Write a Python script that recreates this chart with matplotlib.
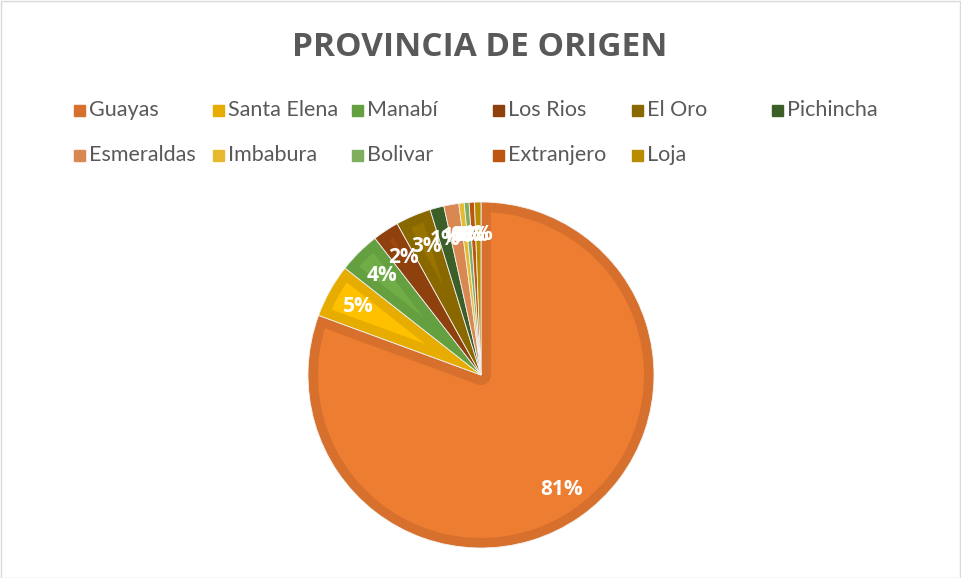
import numpy as np
import matplotlib.pyplot as plt
from matplotlib.patches import Rectangle, Polygon

# Data (share of each slice, %)
provincias = ["Guayas", "Santa Elena", "Manabí", "Los Rios", "El Oro", "Pichincha",
              "Esmeraldas", "Imbabura", "Bolivar", "Extranjero", "Loja"]
porcentaje = [80.6, 5.0, 3.9, 2.45, 3.3, 1.3, 1.4, 0.5, 0.45, 0.5, 0.6]
colores = ["#ED7D31", "#FFC000", "#70AD47", "#9E480E", "#997300", "#43682B",
           "#F1975A", "#FFCD33", "#8CC168", "#D26012", "#CC9A00"]
bordes = ["#D6702C", "#E6AD00", "#65A040", "#8E410D", "#8A6800", "#3C5E27",
          "#DA8851", "#E6B92E", "#7EAE5E", "#BD5610", "#B88B00"]

W, H = 961, 578
CX, CY, R = 481, H - 375, 173
BAND = 10
fig = plt.figure(figsize=(W / 100, H / 100), dpi=100)
ax = fig.add_axes([0, 0, 1, 1])

# outer pie in the darker shade
wedges = ax.pie(porcentaje, colors=bordes, startangle=90, counterclock=False,
                center=(CX, CY), radius=R,
                wedgeprops={"linewidth": 0.6, "edgecolor": "#f2f2f2"})[0]

C = np.array([CX, CY], dtype=float)
rr = R - BAND


def hit_circle(p, e):
    q = p - C
    b = q @ e
    s = -b + np.sqrt(b * b - (q @ q - rr ** 2))
    return p + s * e


def inner_shape(t1, t2):
    """Slice shrunk by BAND on each side (Excel-like bevel)."""
    a1, a2 = np.deg2rad(t1), np.deg2rad(t2)
    e1 = np.array([np.cos(a1), np.sin(a1)])
    e2 = np.array([np.cos(a2), np.sin(a2)])
    n1 = np.array([-np.sin(a1), np.cos(a1)])
    n2 = np.array([np.sin(a2), -np.cos(a2)])
    half = (a2 - a1) / 2
    if half < np.pi / 2:
        mid = (a1 + a2) / 2
        P = C + BAND / np.sin(half) * np.array([np.cos(mid), np.sin(mid)])
        if np.hypot(*(P - C)) >= rr - 3:
            return None
        A = B = P
    else:
        A = C + BAND * n1
        B = C + BAND * n2
    p1 = hit_circle(A, e1)
    p2 = hit_circle(B, e2)
    b1 = np.arctan2(p1[1] - CY, p1[0] - CX)
    b2 = np.arctan2(p2[1] - CY, p2[0] - CX)
    while b2 < b1:
        b2 += 2 * np.pi
    arc = np.linspace(b1, b2, 150)
    pts = [A] + list(np.column_stack([CX + rr * np.cos(arc), CY + rr * np.sin(arc)])) + [B]
    if half >= np.pi / 2:
        g = np.linspace(a2 - np.pi / 2, a1 + np.pi / 2, 30)
        pts += list(np.column_stack([CX + BAND * np.cos(g), CY + BAND * np.sin(g)]))
    return np.array(pts)


for w, c in zip(wedges, colores):
    pts = inner_shape(w.theta1, w.theta2)
    if pts is not None:
        ax.add_patch(Polygon(pts, closed=True, facecolor=c, edgecolor="none"))

total = sum(porcentaje)
ang = 90.0
for v in porcentaje:
    span = 360.0 * v / total
    mid = np.deg2rad(ang - span / 2)
    ang -= span
    ax.text(CX + 0.81 * R * np.cos(mid), CY + 0.81 * R * np.sin(mid),
            f"{100 * v / total:.0f}%", ha="center", va="center",
            color="white", fontsize=15, fontweight="bold", family="Open Sans")

ax.set_xlim(0, W)
ax.set_ylim(0, H)
ax.set_aspect("equal")
ax.axis("off")

# title
fig.text(480 / W, 1 - 47 / H, "PROVINCIA DE ORIGEN", ha="center", va="center",
         fontsize=24, fontweight="bold", color="#595959", family="Open Sans")

# legend, row by row like Excel
col_x = [74, 213, 352, 493, 632, 772]
row_y = [110, 155]
for i, (nom, c) in enumerate(zip(provincias, bordes)):
    x0 = col_x[i % 6]
    y0 = row_y[i // 6]
    ax.add_patch(Rectangle((x0, H - y0 - 6), 11, 11, color=c, clip_on=False))
    ax.text(x0 + 15, H - y0, nom, ha="left", va="center", fontsize=15.5,
            color="#595959", family="Lato")

fig.patches.append(Rectangle((0.5 / W, 0.5 / H), 1 - 1.5 / W, 1 - 1.5 / H,
                             transform=fig.transFigure, fill=False,
                             edgecolor="#D9D9D9", linewidth=1))

fig.savefig("out.png", dpi=100)
